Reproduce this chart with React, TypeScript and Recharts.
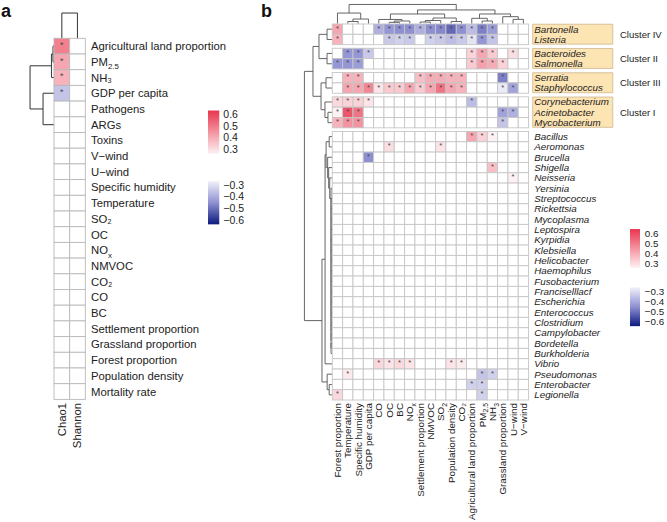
import React from "react";
import { ScatterChart, Scatter, XAxis, YAxis, ReferenceLine, ReferenceArea } from "recharts";

const FONT = '"Liberation Sans", Arial, Helvetica, sans-serif';
const TXT = "#222222";

// ---------------- Panel a data ----------------
const aRowLabels = [
  "Agricultural land proportion", "PM_2.5", "NH₃", "GDP per capita", "Pathogens", "ARGs", "Toxins",
  "V−wind", "U−wind", "Specific humidity", "Temperature", "SO₂", "OC", "NO_x", "NMVOC", "CO₂", "CO", "BC",
  "Settlement proportion", "Grassland proportion", "Forest proportion", "Population density", "Mortality rate",
];
const aColLabels = ["Chao1", "Shannon"];
const aChao1 = [0.48, 0.42, 0.4, -0.37, 0, 0, 0, 0, 0, 0, 0, 0, 0, 0, 0, 0, 0, 0, 0, 0, 0, 0, 0];
const aShannon = [0, 0, 0, 0, 0, 0, 0, 0, 0, 0, 0, 0, 0, 0, 0, 0, 0, 0, 0, 0, 0, 0, 0];

// ---------------- Panel b data ----------------
const bColLabels = [
  "Forest proportion", "Temperature", "Specific humidity", "GDP per capita", "CO", "OC", "BC", "NO_x",
  "Settlement proportion", "NMVOC", "SO_2", "Population density", "CO₂", "Agricultural land proportion",
  "PM_2.5", "NH_3", "Grassland proportion", "U−wind", "V−wind",
];
const clusterNames = ["Cluster IV", "Cluster II", "Cluster III", "Cluster I"];
const clusterIVRows = ["Bartonella", "Listeria"];
const clusterIIRows = ["Bacteroides", "Salmonella"];
const clusterIIIRows = ["Serratia", "Staphylococcus"];
const clusterIRows = ["Corynebacterium", "Acinetobacter", "Mycobacterium"];
const otherRows = [
  "Bacillus", "Aeromonas", "Brucella", "Shigella", "Neisseria", "Yersinia", "Streptococcus", "Rickettsia",
  "Mycoplasma", "Leptospira", "Kyrpidia", "Klebsiella", "Helicobacter", "Haemophilus", "Fusobacterium",
  "Franciselllacf", "Escherichia", "Enterococcus", "Clostridium", "Campylobacter", "Bordetella",
  "Burkholderia", "Vibrio", "Pseudomonas", "Enterobacter", "Legionella",
];

const bartonella = [0.42, 0, 0, 0, -0.4, -0.44, -0.45, -0.45, -0.4, -0.45, -0.46, -0.5, -0.45, -0.38, -0.47, -0.43, 0, 0, 0];
const listeria = [0.4, 0, 0, 0, 0, -0.36, -0.35, -0.36, 0, -0.35, -0.36, -0.38, -0.36, -0.32, -0.44, -0.37, 0, 0, 0];
const bacteroides = [0, -0.44, -0.44, -0.36, 0, 0, 0, 0, 0, 0, 0, 0, 0, 0.35, 0.42, 0.36, 0, 0.33, 0];
const salmonella = [-0.44, -0.44, -0.43, 0, 0, 0, 0, 0, 0, 0, 0, 0, 0, 0.36, 0.43, 0.41, 0.35, 0, 0];
const serratia = [0, 0.4, 0.4, 0, 0, 0, 0, 0, 0.38, 0.41, 0.41, 0.4, 0.4, 0, 0, 0, -0.47, 0, 0];
const staphylococcus = [0, 0.42, 0.42, 0.47, 0.32, 0.36, 0.36, 0.42, 0.36, 0.42, 0.5, 0.42, 0.4, 0, 0, 0, -0.31, -0.42, 0];
const corynebacterium = [0.34, 0.35, 0.35, 0.32, 0, 0, 0, 0, 0, 0, 0, 0, 0, -0.38, 0, 0, 0, 0, 0];
const acinetobacter = [0.3, 0.55, 0.5, 0, 0, 0, 0, 0, 0, 0, 0, 0, 0, 0, 0, 0, -0.42, -0.4, 0];
const mycobacterium = [0.4, 0.45, 0.45, 0, 0, 0, 0, 0, 0, 0, 0, 0, 0, 0, 0, 0, -0.37, 0, 0];
const bacillus = [0, 0, 0, 0, 0, 0, 0, 0, 0, 0, 0, 0, 0, 0.42, 0.35, 0.3, 0, 0, 0];
const aeromonas = [0, 0, 0, 0, 0, 0.33, 0, 0, 0, 0, 0.32, 0, 0, 0, 0, 0, 0, 0, 0];
const brucella = [0, 0, 0, -0.45, 0, 0, 0, 0, 0, 0, 0, 0, 0, 0, 0, 0, 0, 0, 0];
const shigella = [0, 0, 0, 0, 0, 0, 0, 0, 0, 0, 0, 0, 0, 0, 0, 0.38, 0, 0, 0];
const neisseria = [0, 0, 0, 0, 0, 0, 0, 0, 0, 0, 0, 0, 0, 0, 0, 0, 0, 0.3, 0];
const blankRow = [0, 0, 0, 0, 0, 0, 0, 0, 0, 0, 0, 0, 0, 0, 0, 0, 0, 0, 0];
const vibrio = [0, 0, 0, 0, 0.34, 0.32, 0.34, 0.32, 0, 0, 0, 0.32, 0.31, 0, 0, 0, 0, 0, 0];
const pseudomonas = [0, 0.31, 0, 0, 0, 0, 0, 0, 0, 0, 0, 0, 0, 0, -0.37, -0.35, 0, 0, 0];
const enterobacter = [0, 0, 0, 0, 0, 0, 0, 0, 0, 0, 0, 0, 0, -0.35, -0.35, 0, 0, 0, 0];
const legionella = [0.34, 0, 0, 0, 0, 0, 0, 0, 0, 0, 0, 0, 0, 0, -0.35, 0, 0, 0, 0];

const bValues = [
  bartonella, listeria, bacteroides, salmonella, serratia, staphylococcus, corynebacterium, acinetobacter,
  mycobacterium, bacillus, aeromonas, brucella, shigella, neisseria,
  blankRow, blankRow, blankRow, blankRow, blankRow, blankRow, blankRow, blankRow, blankRow,
  blankRow, blankRow, blankRow, blankRow, blankRow, blankRow, blankRow, blankRow,
  vibrio, pseudomonas, enterobacter, legionella,
];

const posLegendLabels = ["0.6", "0.5", "0.4", "0.3"];
const negLegendLabels = ["−0.3", "−0.4", "−0.5", "−0.6"];

// ---------------- dendrogram structures ----------------
type Node = number | [number, Node, Node];
const aColTree: Node = [1.61, 0, 1];
const aRowTree: Node = [1.53, [0.16, [0.064, 0, 1], 2], [0.7, 3, 5]];

const bColTree: Node = [1.89,
  [1.06, 0, [0.48, [0.24, 1, 2], 3]],
  [1.36,
    [0.97, [0.44, 4, [0.29, [0.16, 5, 6], 7]], [0.58, [0.34, [0.19, 8, 9], 10], [0.24, 11, 12]]],
    [0.97, [0.55, 13, [0.29, 14, 15]], [0.71, 16, [0.45, 17, 18]]],
  ],
];
let zeroChain: Node = 30;
for (let r = 29; r >= 14; r--) zeroChain = [0.12, r, zeroChain];
const bRowTree: Node = [2.7,
  [1.87, [1.29, [0.51, 0, 1], [0.51, 2, 3]], [1.09, [0.61, 4, 5], [0.71, 6, [0.42, 7, 8]]]],
  [1.0,
    [0.7, [0.6, [0.3, 9, 10], [0.45, 11, [0.35, 12, [0.25, 13, zeroChain]]]], 31],
    [0.5, 32, [0.3, 33, 34]],
  ],
];

function buildDendro(tree: Node, leafPos: (i: number) => number, leafH: number) {
  const segs: { p1: number; h1: number; p2: number; h2: number }[] = [];
  const rec = (n: Node): { p: number; h: number } => {
    if (typeof n === "number") return { p: leafPos(n), h: leafH };
    const [h, l, r] = n;
    const L = rec(l);
    const R = rec(r);
    segs.push({ p1: L.p, h1: L.h, p2: L.p, h2: h });
    segs.push({ p1: R.p, h1: R.h, p2: R.p, h2: h });
    segs.push({ p1: L.p, h1: h, p2: R.p, h2: h });
    return { p: (L.p + R.p) / 2, h };
  };
  rec(tree);
  return segs;
}

// ---------------- colours ----------------
function hexRgb(h: string) {
  const n = parseInt(h.slice(1), 16);
  return [(n >> 16) & 255, (n >> 8) & 255, n & 255];
}
function mix(a: string, b: string, t: number) {
  const A = hexRgb(a), B = hexRgb(b);
  const c = A.map((v, i) => Math.round(v + (B[i] - v) * t));
  return `rgb(${c[0]},${c[1]},${c[2]})`;
}
const RED = ["#fdf1f3", "#f4939f", "#e8364f"];
const BLUE = ["#f1f1f9", "#8e90d2", "#0c1a7e"];
function corrColor(v: number) {
  if (v === 0) return "#ffffff";
  const t = Math.min(1, Math.max(0, (Math.abs(v) - 0.3) / 0.3));
  const s = v > 0 ? RED : BLUE;
  return t < 0.5 ? mix(s[0], s[1], t * 2) : mix(s[1], s[2], (t - 0.5) * 2);
}

// ---------------- shapes ----------------
const makeCell = (w: number, h: number, star: number, stroke: string) => (props: any) => {
  const { cx, cy, payload } = props;
  if (cx == null || cy == null) return <g />;
  return (
    <g>
      <rect x={cx - w / 2} y={cy - h / 2} width={w} height={h} fill={corrColor(payload.v)} stroke={stroke} strokeWidth={0.9} />
      {payload.v !== 0 ? (
        <text x={cx} y={cy + star * 0.2} textAnchor="middle" fontSize={star} fill="#4a4a4a" fontFamily={FONT}>*</text>
      ) : null}
    </g>
  );
};

const makeText = (o: { dx?: number; dy?: number; size: number; italic?: boolean; anchor?: string; rotate?: boolean }) =>
  (props: any) => {
    const { cx, cy, payload } = props;
    if (cx == null || cy == null) return <g />;
    const [main, sub] = String(payload.text).split("_");
    const x = cx + (o.dx || 0);
    const y = cy + (o.dy || 0);
    const content = (
      <>
        {main}
        {sub ? <tspan dy={o.size * 0.3} fontSize={o.size * 0.7}>{sub}</tspan> : null}
      </>
    );
    const common = { fontSize: o.size, fill: TXT, fontFamily: FONT, fontStyle: o.italic ? "italic" : "normal" } as any;
    if (o.rotate)
      return <text transform={`translate(${x},${y}) rotate(-90)`} textAnchor="end" dy="0.35em" {...common}>{content}</text>;
    return <text x={x} y={y} dy="0.35em" textAnchor={o.anchor || "start"} {...common}>{content}</text>;
  };

// ---------------- Panel a layout ----------------
const A = { cw: 15.65, ch: 15.7, gl: 54, gt: 38.3, x0: -3, x1: 12, y0: -1.7, y1: 23, W: 250, H: 522 };
const aMargin = {
  left: A.gl + A.x0 * A.cw,
  top: A.gt + A.y0 * A.ch,
  right: A.W - (A.gl + A.x0 * A.cw) - (A.x1 - A.x0) * A.cw,
  bottom: A.H - (A.gt + A.y0 * A.ch) - (A.y1 - A.y0) * A.ch,
};
const aCells = [aChao1, aShannon].flatMap((col, c) => col.map((v, r) => ({ x: c + 0.5, y: r + 0.5, v })));
const aRowLabelPts = aRowLabels.map((t, r) => ({ x: 2, y: r + 0.5, text: t }));
const aColLabelPts = aColLabels.map((t, c) => ({ x: c + 0.5, y: aRowLabels.length, text: t }));
const aLeg = { x1: 9.84, x2: 10.56, lx: 10.82, redTop: 4.6, redBot: 7.35, blueTop: 9.1, blueBot: 11.85, first: 4.84, step: 0.745, negFirst: 9.34 };
const aLegendPts = [
  ...posLegendLabels.map((t, i) => ({ x: aLeg.lx, y: aLeg.first + i * aLeg.step, text: t })),
  ...negLegendLabels.map((t, i) => ({ x: aLeg.lx, y: aLeg.negFirst + i * aLeg.step, text: t })),
];
const aColSegs = buildDendro(aColTree, (i) => i + 0.5, 0);
const aRowSegs = buildDendro(aRowTree, (i) => i + 0.5, 0);

// ---------------- Panel b layout ----------------
const B = { c: 10.33, gl: 332.3, gt: 24, x0: -3, x1: 32, y0: -2, y1: 36.4, W: 417, H: 522, left: 250 };
const bMargin = {
  left: B.gl + B.x0 * B.c - B.left,
  top: B.gt + B.y0 * B.c,
  right: B.W - (B.gl + B.x0 * B.c - B.left) - (B.x1 - B.x0) * B.c,
  bottom: B.H - (B.gt + B.y0 * B.c) - (B.y1 - B.y0) * B.c,
};
const bGroups = [clusterIVRows, clusterIIRows, clusterIIIRows, clusterIRows, otherRows];
const GAP = 0.35;
const rowTops: number[] = [];
const groupSpans: { top: number; bottom: number }[] = [];
{
  let acc = 0;
  bGroups.forEach((g) => {
    const start = acc;
    g.forEach(() => { rowTops.push(acc); acc += 1; });
    groupSpans.push({ top: start, bottom: acc });
    acc += GAP;
  });
}
const bRowNames = bGroups.flat();
const bCells = bValues.flatMap((row, r) => row.map((v, c) => ({ x: c + 0.5, y: rowTops[r] + 0.5, v })));
const bRowLabelPts = bRowNames.map((t, r) => ({ x: 19.55, y: rowTops[r] + 0.5, text: t }));
const bColLabelPts = bColLabels.map((t, c) => ({ x: c + 0.5, y: B.y1, text: t }));
const bClusterPts = clusterNames.map((t, i) => ({ x: 27.85, y: (groupSpans[i].top + groupSpans[i].bottom) / 2, text: t }));
const bLeg = { x1: 28.82, x2: 29.79, lx: 30.25, redTop: 19.85, redBot: 23.6, blueTop: 25.5, blueBot: 29.25, first: 20.3, step: 0.95, negFirst: 25.95 };
const bLegendPts = [
  ...posLegendLabels.map((t, i) => ({ x: bLeg.lx, y: bLeg.first + i * bLeg.step, text: t })),
  ...negLegendLabels.map((t, i) => ({ x: bLeg.lx, y: bLeg.negFirst + i * bLeg.step, text: t })),
];
const bColSegs = buildDendro(bColTree, (i) => i + 0.5, 0.03);
const bRowSegs = buildDendro(bRowTree, (i) => rowTops[i] + 0.5, 0.03);

const Gradients = ({ id }: { id: string }) => (
  <defs>
    <linearGradient id={`${id}Red`} x1="0" y1="0" x2="0" y2="1">
      <stop offset="0%" stopColor={RED[2]} />
      <stop offset="50%" stopColor={RED[1]} />
      <stop offset="100%" stopColor={RED[0]} />
    </linearGradient>
    <linearGradient id={`${id}Blue`} x1="0" y1="0" x2="0" y2="1">
      <stop offset="0%" stopColor={BLUE[0]} />
      <stop offset="50%" stopColor={BLUE[1]} />
      <stop offset="100%" stopColor={BLUE[2]} />
    </linearGradient>
  </defs>
);

export default function App() {
  return (
    <div style={{ position: "absolute", left: 0, top: 0, width: 667, height: 522, background: "#fff", fontFamily: FONT }}>
      <div style={{ position: "absolute", left: 0, top: 0 }}>
        <ScatterChart width={A.W} height={A.H} margin={aMargin}>
          <Gradients id="a" />
          <XAxis type="number" dataKey="x" domain={[A.x0, A.x1]} hide />
          <YAxis type="number" dataKey="y" domain={[A.y0, A.y1]} reversed hide />
          <ReferenceArea x1={aLeg.x1} x2={aLeg.x2} y1={aLeg.redTop} y2={aLeg.redBot} fill="url(#aRed)" fillOpacity={1} stroke="none" />
          <ReferenceArea x1={aLeg.x1} x2={aLeg.x2} y1={aLeg.blueTop} y2={aLeg.blueBot} fill="url(#aBlue)" fillOpacity={1} stroke="none" />
          {aColSegs.map((s, i) => (
            <ReferenceLine key={`ac${i}`} segment={[{ x: s.p1, y: -s.h1 }, { x: s.p2, y: -s.h2 }]} stroke="#444" strokeWidth={1.1} />
          ))}
          {aRowSegs.map((s, i) => (
            <ReferenceLine key={`ar${i}`} segment={[{ x: -s.h1, y: s.p1 }, { x: -s.h2, y: s.p2 }]} stroke="#444" strokeWidth={1.1} />
          ))}
          <Scatter data={aCells} isAnimationActive={false} shape={makeCell(A.cw, A.ch, 9, "#b9b9b9")} />
          <Scatter data={aRowLabelPts} isAnimationActive={false} shape={makeText({ dx: 5.7, size: 11.3 })} />
          <Scatter data={aColLabelPts} isAnimationActive={false} shape={makeText({ dy: 3.5, size: 11.3, rotate: true })} />
          <Scatter data={aLegendPts} isAnimationActive={false} shape={makeText({ size: 10.5 })} />
        </ScatterChart>
      </div>
      <div style={{ position: "absolute", left: B.left, top: 0 }}>
        <ScatterChart width={B.W} height={B.H} margin={bMargin}>
          <Gradients id="b" />
          <XAxis type="number" dataKey="x" domain={[B.x0, B.x1]} hide />
          <YAxis type="number" dataKey="y" domain={[B.y0, B.y1]} reversed hide />
          {groupSpans.slice(0, 4).map((g, i) => (
            <ReferenceArea key={`box${i}`} x1={19.4} x2={27.15} y1={g.top + 0.02} y2={g.bottom - 0.05} fill="#fde4b3" fillOpacity={1} stroke="#cdb58e" strokeWidth={0.8} />
          ))}
          <ReferenceArea x1={bLeg.x1} x2={bLeg.x2} y1={bLeg.redTop} y2={bLeg.redBot} fill="url(#bRed)" fillOpacity={1} stroke="none" />
          <ReferenceArea x1={bLeg.x1} x2={bLeg.x2} y1={bLeg.blueTop} y2={bLeg.blueBot} fill="url(#bBlue)" fillOpacity={1} stroke="none" />
          {bColSegs.map((s, i) => (
            <ReferenceLine key={`bc${i}`} segment={[{ x: s.p1, y: -s.h1 }, { x: s.p2, y: -s.h2 }]} stroke="#555" strokeWidth={0.9} />
          ))}
          {bRowSegs.map((s, i) => (
            <ReferenceLine key={`br${i}`} segment={[{ x: -s.h1, y: s.p1 }, { x: -s.h2, y: s.p2 }]} stroke="#555" strokeWidth={0.9} />
          ))}
          <Scatter data={bCells} isAnimationActive={false} shape={makeCell(B.c, B.c, 7.5, "#c6c6c6")} />
          <Scatter data={bRowLabelPts} isAnimationActive={false} shape={makeText({ size: 9.8, italic: true })} />
          <Scatter data={bColLabelPts} isAnimationActive={false} shape={makeText({ dy: 3, size: 9.8, rotate: true })} />
          <Scatter data={bClusterPts} isAnimationActive={false} shape={makeText({ size: 9.5 })} />
          <Scatter data={bLegendPts} isAnimationActive={false} shape={makeText({ size: 9.8 })} />
        </ScatterChart>
      </div>
      <div style={{ position: "absolute", left: 1, top: 1, fontSize: 18, fontWeight: "bold", lineHeight: "20px", color: "#111" }}>a</div>
      <div style={{ position: "absolute", left: 261, top: 1, fontSize: 18, fontWeight: "bold", lineHeight: "20px", color: "#111" }}>b</div>
    </div>
  );
}
